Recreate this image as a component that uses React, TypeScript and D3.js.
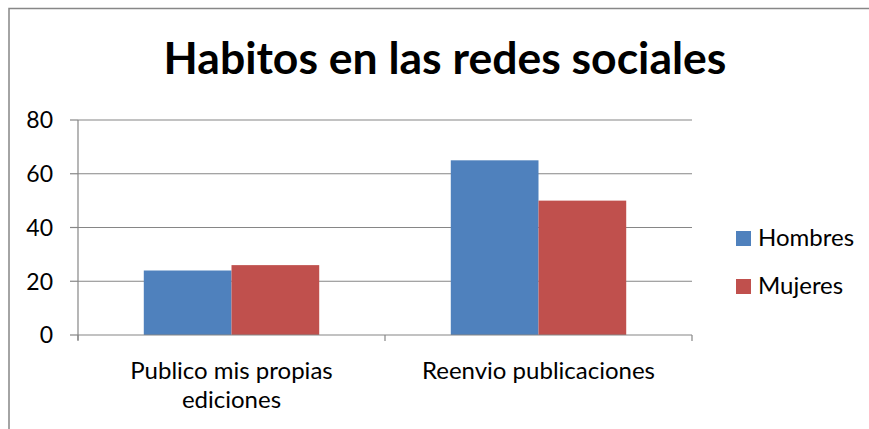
import React from "react";
import * as d3 from "d3";

const categories = ["Publico mis propias ediciones", "Reenvio publicaciones"];
const categoryLines = [["Publico mis propias", "ediciones"], ["Reenvio publicaciones"]];
const seriesNames = ["Hombres", "Mujeres"];
const hombres = [24, 65];
const mujeres = [26, 50];
const yTicks = [0, 20, 40, 60, 80];
const colors = ["#4F81BD", "#C0504D"];

const W = 869, H = 429;
const FONT = "Lato, Carlito, Calibri, 'Open Sans', sans-serif";

export default function App() {
  const left = 78, right = 692, top = 120, bottom = 335;
  const x = d3.scaleBand<string>().domain(categories).range([left, right]).paddingInner(0).paddingOuter(0);
  const y = d3.scaleLinear().domain([0, 80]).range([bottom, top]);
  const inner = d3.scaleBand<string>().domain(seriesNames).range([0, x.bandwidth()]).paddingOuter(0.75).paddingInner(0);
  const series = [hombres, mujeres];
  const grid = "#868686";
  return (
    <svg width={W} height={H} style={{ position: "absolute", left: 0, top: 0, background: "#fff", overflow: "hidden" }} fontFamily={FONT}>
      <path d={`M9,${H + 5}V8.5H${W + 5}`} fill="none" stroke="#878787" strokeWidth={1.5} />
      <text x={445} y={74} textAnchor="middle" fontSize={44.5} fontWeight="bold" fill="#000">Habitos en las redes sociales</text>
      {yTicks.map((t) => (
        <g key={t}>
          {t > 0 && <line x1={left} x2={right} y1={y(t)} y2={y(t)} stroke={grid} strokeWidth={1.2} />}
          <line x1={left - 8} x2={left} y1={y(t)} y2={y(t)} stroke={grid} strokeWidth={1.2} />
          <text x={53} y={y(t)} dy="0.36em" textAnchor="end" fontSize={23} fill="#000">{t}</text>
        </g>
      ))}
      {categories.map((c, i) =>
        series.map((s, j) => (
          <rect key={c + j} x={(x(c) as number) + (inner(seriesNames[j]) as number)} y={y(s[i])} width={inner.bandwidth()} height={bottom - y(s[i])} fill={colors[j]} />
        ))
      )}
      <line x1={left} x2={left} y1={top} y2={bottom + 5} stroke={grid} strokeWidth={1.2} />
      <line x1={left} x2={right} y1={bottom} y2={bottom} stroke={grid} strokeWidth={1.2} />
      {[...categories.map((c) => x(c) as number), right].map((v, i) => (
        <line key={i} x1={v} x2={v} y1={bottom} y2={bottom + 6} stroke={grid} strokeWidth={1.2} />
      ))}
      {categories.map((c, i) => (
        <text key={c} x={(x(c) as number) + x.bandwidth() / 2} textAnchor="middle" fontSize={24} fill="#000">
          {categoryLines[i].map((l, k) => (
            <tspan key={k} x={(x(c) as number) + x.bandwidth() / 2} y={379 + k * 29}>{l}</tspan>
          ))}
        </text>
      ))}
      {seriesNames.map((n, j) => (
        <g key={n}>
          <rect x={736} y={231 + j * 48} width={15} height={15} fill={colors[j]} />
          <text x={758} y={246 + j * 48} fontSize={24} fill="#000">{n}</text>
        </g>
      ))}
    </svg>
  );
}
